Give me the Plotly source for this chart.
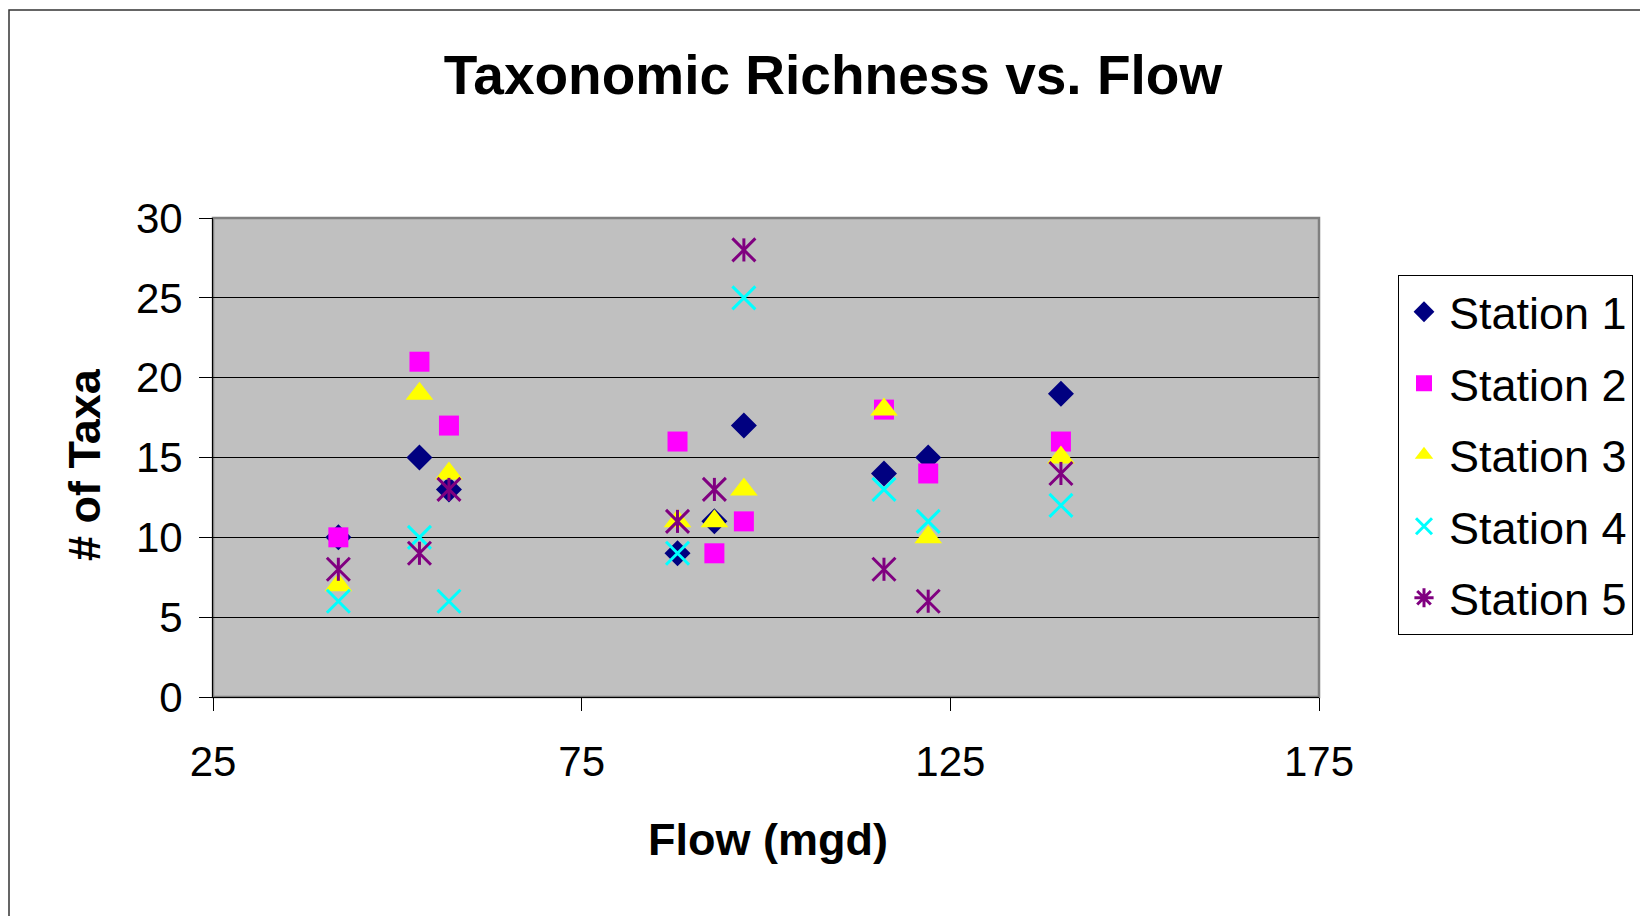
import plotly.graph_objects as go

flow = [42, 53, 57, 88, 93, 97, 116, 122, 140]
station1 = [10, 15, 13, 9, 11, 17, 14, 15, 19]
station2 = [10, 21, 17, 16, 9, 11, 18, 14, 16]
station3 = [7, 19, 14, 11, 11, 13, 18, 10, 15]
station4 = [6, 10, 6, 9, None, 25, 13, 11, 12]
station5 = [8, 9, 13, 11, 13, 28, 8, 6, 14]

x_ticks = [25, 75, 125, 175]
y_ticks = [0, 5, 10, 15, 20, 25, 30]

FONT = "Liberation Sans, Arial, sans-serif"

W, H = 1640, 916
L, R, T, B = 213, 1319, 218, 697
pw, ph = R - L, B - T

def px(xpix):
    return (xpix - L) / pw

def py(ypix):
    return (B - ypix) / ph

fig = go.Figure()

def add(name, y, symbol, size, color, lw=0, showlegend=True, group=None):
    fig.add_trace(go.Scatter(
        x=flow, y=y, mode="markers", name=name,
        legendgroup=group or name, showlegend=showlegend,
        marker=dict(symbol=symbol, size=size, color=color,
                    line=dict(color=color, width=lw)),
        hoverinfo="x+y",
    ))

add("Station 1", station1, "diamond", 20, "#000080")
add("Station 2", station2, "square", 20, "#FF00FF")
add("Station 3", station3, "triangle-up", 24, "#FFFF00")
add("Station 4", station4, "x-thin-open", 23, "#00FFFF", lw=3)
add("Station 5", station5, "x-thin-open", 23, "#800080", lw=3, showlegend=False, group="s5")
add("Station 5", station5, "line-ns-open", 16.5, "#800080", lw=3, showlegend=False, group="s5")
# legend entry for Station 5 (star)
fig.add_trace(go.Scatter(
    x=[None], y=[None], mode="markers", name="Station 5", legendgroup="s5",
    marker=dict(symbol="asterisk-open", size=16, color="#800080",
                line=dict(color="#800080", width=3)),
))

fig.update_layout(
    width=W, height=H,
    margin=dict(l=L, r=W - R, t=T, b=H - B),
    paper_bgcolor="white",
    plot_bgcolor="#C0C0C0",
    font=dict(family=FONT, color="black"),
    showlegend=True,
    legend=dict(
        xref="container", yref="container",
        x=1398 / W, y=1 - 275 / H, xanchor="left", yanchor="top",
        bgcolor="white", bordercolor="black", borderwidth=1,
        font=dict(size=45, family=FONT, color="black"),
        traceorder="grouped", tracegroupgap=10, itemwidth=40,
    ),
    title=dict(
        text="<b>Taxonomic Richness vs. Flow</b>",
        font=dict(size=55, family=FONT, color="black"),
        x=px(833), xref="paper", xanchor="center",
        y=1 - 75 / H, yref="container", yanchor="middle",
    ),
    xaxis=dict(
        range=[25, 175], tickvals=x_ticks, ticktext=[str(v) for v in x_ticks],
        showgrid=False, zeroline=False,
        showline=True, linecolor="black", linewidth=1,
        ticks="outside", ticklen=13, tickcolor="black", tickwidth=1,
        ticklabelstandoff=15,
        tickfont=dict(size=42, family=FONT, color="black"),
    ),
    yaxis=dict(
        range=[0, 30], tickvals=y_ticks, ticktext=[str(v) for v in y_ticks],
        showgrid=True, gridcolor="black", gridwidth=1, zeroline=False,
        showline=True, linecolor="black", linewidth=1,
        ticks="outside", ticklen=13, tickcolor="black", tickwidth=1,
        ticklabelstandoff=8,
        tickfont=dict(size=42, family=FONT, color="black"),
    ),
    shapes=[
        dict(type="rect", xref="paper", yref="paper", x0=0, x1=1, y0=0, y1=1,
             line=dict(color="#808080", width=2.5), fillcolor="rgba(0,0,0,0)", layer="below"),
        dict(type="rect", xref="paper", yref="paper",
             x0=px(9), x1=px(1700), y0=py(960), y1=py(10),
             line=dict(color="#333333", width=1.5), fillcolor="rgba(0,0,0,0)"),
    ],
    annotations=[
        dict(text="<b>Flow (mgd)</b>", xref="paper", yref="paper",
             x=px(768), y=py(839), xanchor="center", yanchor="middle",
             showarrow=False, font=dict(size=45, family=FONT, color="black")),
        dict(text="<b># of Taxa</b>", xref="paper", yref="paper",
             x=px(84), y=py(465), xanchor="center", yanchor="middle",
             textangle=-90, showarrow=False,
             font=dict(size=45, family=FONT, color="black")),
    ],
)

fig.write_html("out.html")
